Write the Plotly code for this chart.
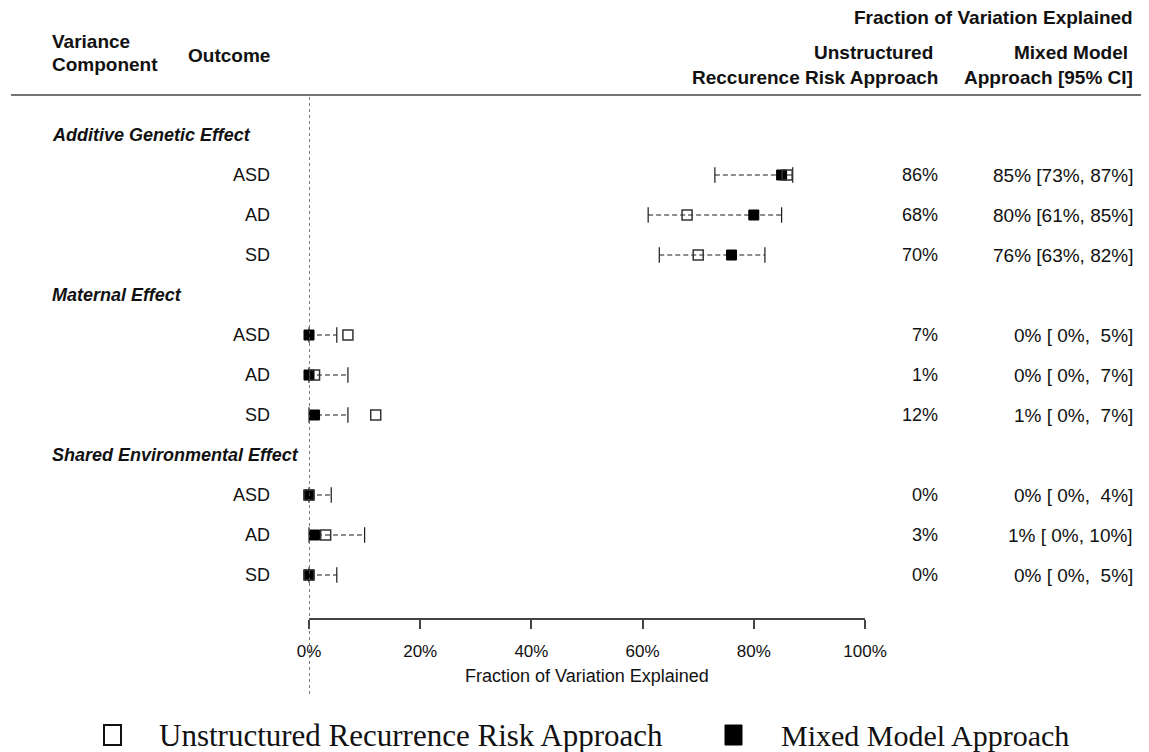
import plotly.graph_objects as go

# ---------------- data ----------------
components = ["Additive Genetic Effect", "Maternal Effect", "Shared Environmental Effect"]
outcomes = ["ASD", "AD", "SD"]
unstructured = [86, 68, 70, 7, 1, 12, 0, 3, 0]
mixed = [85, 80, 76, 0, 0, 1, 0, 1, 0]
mixed_lo = [73, 61, 63, 0, 0, 0, 0, 0, 0]
mixed_hi = [87, 85, 82, 5, 7, 7, 4, 10, 5]
x_ticks = [0, 20, 40, 60, 80, 100]
x_ticklabels = ["0%", "20%", "40%", "60%", "80%", "100%"]

# ---------------- layout geometry (screen pixels) ----------------
OFF = 8                    # page body margin
SW, SH = 1149, 752
W, H = SW - OFF, SH - OFF
X0, X1 = 309, 865          # plot area x extent (screen)
PLOT_TOP = OFF
PLOT_BOTTOM = 618          # axis line (screen)
ROW0_Y, ROW_STEP = 135, 40 # screen y of first row, spacing

def px(xp):
    return (xp - X0) / (X1 - X0)

def py(yp):
    return (PLOT_BOTTOM - yp) / (PLOT_BOTTOM - PLOT_TOP)

rows_out = []
rows_hdr = []
k = 0
for c in components:
    rows_hdr.append(k)
    k += 1
    for o in outcomes:
        rows_out.append(k)
        k += 1

FONT = "Liberation Sans, Arial, sans-serif"
TXT = "#111111"

fig = go.Figure()

for i, r in enumerate(rows_out):
    fig.add_trace(go.Scatter(
        x=[mixed_lo[i], mixed_hi[i]], y=[r, r], mode="lines+markers",
        line=dict(color="#1a1a1a", width=1.1, dash="5px,3px"),
        marker=dict(symbol="line-ns-open", size=11, color="#1a1a1a",
                    line=dict(width=1.2, color="#1a1a1a")),
        showlegend=False, hoverinfo="skip", cliponaxis=False))

fig.add_trace(go.Scatter(
    x=mixed, y=rows_out, mode="markers", name="Mixed Model Approach",
    marker=dict(symbol="square", size=10, color="#000000",
                line=dict(width=1, color="#000000")),
    showlegend=False, cliponaxis=False))

fig.add_trace(go.Scatter(
    x=unstructured, y=rows_out, mode="markers", name="Unstructured Recurrence Risk Approach",
    marker=dict(symbol="square-open", size=10, color="#333333",
                line=dict(width=1.5, color="#333333")),
    showlegend=False, cliponaxis=False))

ann = []
for c, r in zip(components, rows_hdr):
    ann.append(dict(x=px(50), y=r, xref="paper", yref="y", text=f"<b><i>{c}</i></b>",
                    xanchor="left", yanchor="middle", showarrow=False,
                    font=dict(family=FONT, size=18, color=TXT)))

for i, r in enumerate(rows_out):
    o = outcomes[i % 3]
    ann.append(dict(x=px(272), y=r, xref="paper", yref="y", text=o,
                    xanchor="right", yanchor="middle", showarrow=False,
                    font=dict(family=FONT, size=18, color=TXT)))
    ann.append(dict(x=px(940), y=r, xref="paper", yref="y", text=f"{unstructured[i]}%",
                    xanchor="right", yanchor="middle", showarrow=False,
                    font=dict(family=FONT, size=18, color=TXT)))
    lo = f"{mixed_lo[i]:>2}%".replace(" ", "\u00a0")
    hi = f"{mixed_hi[i]:>2}%".replace(" ", "\u00a0")
    ann.append(dict(x=px(1135), y=r, xref="paper", yref="y",
                    text=f"{mixed[i]}% [{lo},\u00a0{hi}]",
                    xanchor="right", yanchor="middle", showarrow=False,
                    font=dict(family=FONT, size=19, color=TXT)))

hdrs = [
    ("Fraction of Variation Explained", 1135, 17, "right"),
    ("Unstructured", 935, 53, "right"),
    ("Reccurence Risk Approach", 940, 77, "right"),
    ("Mixed Model", 1130, 53, "right"),
    ("Approach [95% CI]", 1135, 77, "right"),
    ("Variance", 50, 42, "left"),
    ("Component", 50, 65, "left"),
    ("Outcome", 186, 55, "left"),
]
for t, xp_, yp_, anc in hdrs:
    ann.append(dict(x=px(xp_), y=py(yp_), xref="paper", yref="paper", text=f"<b>{t}</b>",
                    xanchor=anc, yanchor="middle", showarrow=False,
                    font=dict(family=FONT, size=19, color=TXT)))

ann.append(dict(x=0.5, y=py(676), xref="paper", yref="paper",
                text="Fraction of Variation Explained", xanchor="center", yanchor="middle",
                showarrow=False, font=dict(family=FONT, size=18, color=TXT)))

SERIF = "Liberation Serif, Times New Roman, serif"
ann.append(dict(x=px(157), y=py(735), xref="paper", yref="paper",
                text="Unstructured Recurrence Risk Approach", xanchor="left", yanchor="middle",
                showarrow=False, font=dict(family=SERIF, size=31, color=TXT)))
ann.append(dict(x=px(779), y=py(735), xref="paper", yref="paper",
                text="Mixed Model Approach", xanchor="left", yanchor="middle",
                showarrow=False, font=dict(family=SERIF, size=30, color=TXT)))

shapes = [
    dict(type="line", xref="paper", yref="paper", x0=px(11), x1=px(1149), y0=py(95), y1=py(95),
         line=dict(color="#444444", width=1.5)),
    dict(type="line", xref="x", yref="paper", x0=0, x1=0, y0=py(694), y1=py(96),
         line=dict(color="#555555", width=1.5, dash="dot")),
    dict(type="rect", xref="paper", yref="paper", x0=px(104), x1=px(121), y0=py(745), y1=py(725),
         line=dict(color="#111111", width=2), fillcolor="rgba(0,0,0,0)"),
    dict(type="rect", xref="paper", yref="paper", x0=px(725), x1=px(742), y0=py(745), y1=py(725),
         line=dict(color="#000000", width=1), fillcolor="#000000"),
]

y_top = (PLOT_TOP - ROW0_Y) / ROW_STEP
y_bot = (PLOT_BOTTOM - ROW0_Y) / ROW_STEP

fig.update_layout(
    width=W, height=H,
    margin=dict(l=X0 - OFF, r=W - (X1 - OFF), t=0, b=H - (PLOT_BOTTOM - OFF), pad=0),
    paper_bgcolor="white", plot_bgcolor="white",
    showlegend=False,
    annotations=ann, shapes=shapes,
    xaxis=dict(range=[0, 100], tickvals=x_ticks, ticktext=x_ticklabels,
               showgrid=False, zeroline=False, showline=True, linecolor="#444444", linewidth=1.5,
               ticks="outside", ticklen=9, tickwidth=1.5, tickcolor="#444444",
               ticklabelstandoff=8,
               tickfont=dict(family=FONT, size=17, color=TXT), fixedrange=True),
    yaxis=dict(range=[y_bot, y_top], showgrid=False, zeroline=False, showline=False,
               showticklabels=False, ticks="", fixedrange=True),
)

fig.write_html("out.html")
